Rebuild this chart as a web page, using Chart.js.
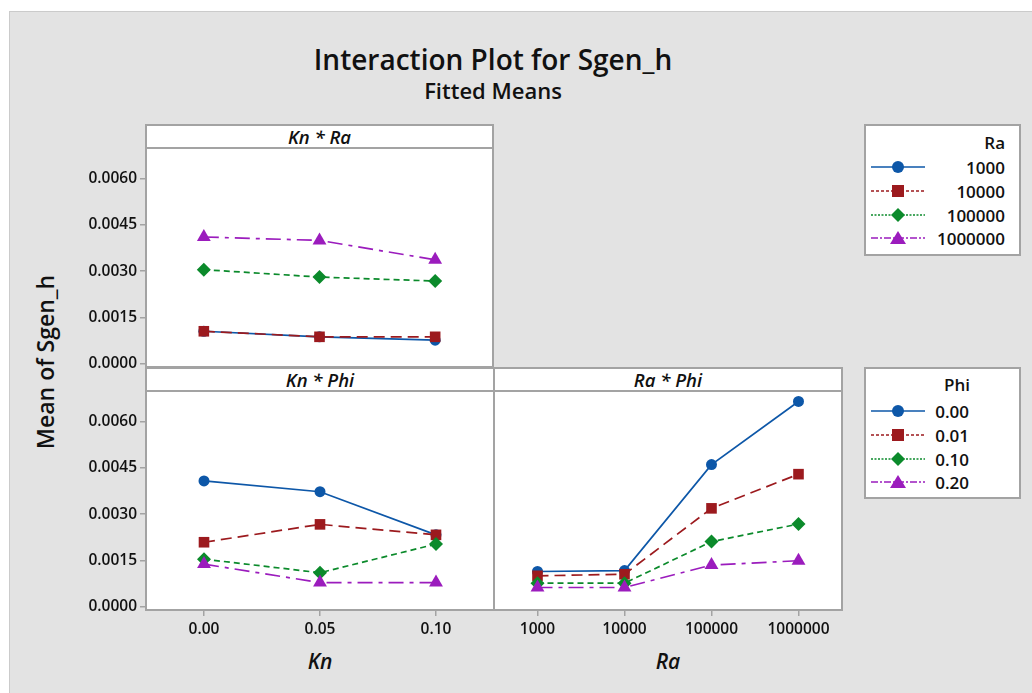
<!DOCTYPE html>
<html>
<head>
<meta charset="utf-8">
<title>Interaction Plot for Sgen_h</title>
<script src="https://cdn.jsdelivr.net/npm/chart.js@4.4.1/dist/chart.umd.min.js"></script>
<style>
  body { margin: 0; width: 1032px; height: 693px; background: #fff; position: relative; overflow: hidden;
         font-family: 'Open Sans', 'Noto Sans', sans-serif; color: #111; }
  .abs { position: absolute; }
  #bg { left: 9px; top: 11px; right: 0; bottom: 0; background: #e3e3e3; border-top: 1px solid #cbcbcb; border-left: 1px solid #cbcbcb; }
  .title { left: 0; width: 986px; text-align: center; font-weight: 600; line-height: 1; }
  .strip { background: #fff; border: 2px solid #a3a3a3; box-sizing: border-box; text-align: center;
           font-style: italic; font-weight: 600; font-size: 18.5px; line-height: 21px; }
  .axtitle { font-weight: 600; font-size: 21px; font-style: italic; transform: translate(-50%, -50%); white-space: nowrap; }
  .legend { background: #fff; border: 2px solid #a3a3a3; box-sizing: border-box; }
  .lgtext { font-weight: 600; font-size: 17px; transform: translate(-100%, -50%); white-space: nowrap; }
  canvas { position: absolute; }
</style>
</head>
<body>
<div id="bg" class="abs"></div>
<div class="abs title" style="top:45px;font-size:28px;">Interaction Plot for Sgen_h</div>
<div class="abs title" style="top:79px;font-size:22px;">Fitted Means</div>

<div class="abs strip" style="left:145px;top:124px;width:349px;height:25px;">Kn * Ra</div>
<div class="abs strip" style="left:145px;top:367px;width:350px;height:25px;">Kn * Phi</div>
<div class="abs strip" style="left:493px;top:367px;width:350px;height:25px;">Ra * Phi</div>

<canvas id="knRa" width="425" height="223" style="left:70px;top:146px;"></canvas>
<canvas id="knPhi" width="426" height="251" style="left:70px;top:389px;"></canvas>
<canvas id="raPhi" width="352" height="251" style="left:492px;top:389px;"></canvas>

<div class="abs axtitle" style="left:45px;top:362px;font-style:normal;font-size:23px;transform:translate(-50%,-50%) rotate(-90deg);">Mean of Sgen_h</div>
<div class="abs axtitle" style="left:320px;top:661px;">Kn</div>
<div class="abs axtitle" style="left:668px;top:661px;">Ra</div>

<div id="legendRa" class="abs legend" style="left:864px;top:124px;width:157px;height:132px;"></div>
<div id="legendPhi" class="abs legend" style="left:864px;top:367px;width:157px;height:132px;"></div>

<script>
// factor levels on the x axes
const knLevels = ['0.00', '0.05', '0.10'];
const raLevels = ['1000', '10000', '100000', '1000000'];

// grouping levels (legend entries)
const raGroups = ['1000', '10000', '100000', '1000000'];
const phiGroups = ['0.00', '0.01', '0.10', '0.20'];

// shared y ticks
const yTicks = [0, 0.0015, 0.003, 0.0045, 0.006];
const yMin = -0.00011;
const yMax = 0.0070;

// Kn * Ra fitted means, one array per Ra level
const knRa1000 = [0.00105, 0.00087, 0.00076];
const knRa10000 = [0.00105, 0.00087, 0.00087];
const knRa100000 = [0.00305, 0.00281, 0.00268];
const knRa1000000 = [0.00411, 0.00400, 0.00337];

// Kn * Phi fitted means, one array per Phi level
const knPhi000 = [0.00408, 0.00373, 0.00233];
const knPhi001 = [0.00209, 0.00267, 0.00233];
const knPhi010 = [0.00154, 0.00110, 0.00203];
const knPhi020 = [0.00138, 0.00078, 0.00078];

// Ra * Phi fitted means, one array per Phi level
const raPhi000 = [0.00114, 0.00117, 0.00461, 0.00666];
const raPhi001 = [0.00100, 0.00105, 0.00319, 0.00430];
const raPhi010 = [0.00076, 0.00076, 0.00211, 0.00268];
const raPhi020 = [0.00062, 0.00062, 0.00135, 0.00149];

const styles = [
  { color: '#0d57a8', pointStyle: 'circle', radius: 5.5, dash: [], legendDash: '' },
  { color: '#9c1a1e', pointStyle: 'rect', radius: 7.5, dash: [11, 6], legendDash: '3,2' },
  { color: '#0b8a2b', pointStyle: 'rectRot', radius: 7, dash: [6, 4], legendDash: '2,1.5' },
  { color: '#9b1cbd', pointStyle: 'triangle', radius: 8, dash: [15, 6, 4, 6], legendDash: '7,2,2,2' }
];

const GRAY = '#a3a3a3';
const tickFont = { family: "'Open Sans', 'Noto Sans', sans-serif", size: 15.5, weight: '600' };

// white plot area with a grey frame
const panelFrame = {
  id: 'panelFrame',
  beforeDraw(chart) {
    const { ctx, chartArea: a } = chart;
    ctx.save();
    ctx.fillStyle = '#fff';
    ctx.fillRect(a.left, a.top, a.right - a.left, a.bottom - a.top);
    ctx.restore();
  },
  beforeDatasetsDraw(chart) {
    const { ctx, chartArea: a } = chart;
    ctx.save();
    ctx.strokeStyle = GRAY;
    ctx.lineWidth = 2;
    ctx.strokeRect(a.left, a.top, a.right - a.left, a.bottom - a.top);
    ctx.restore();
  }
};

// fixed axis sizes, no label overflow padding, so the panels line up
function fixSize(s, size) {
  const shown = s.options.display;
  if (s.isHorizontal()) s.height = shown ? size : 0;
  else s.width = shown ? size : 0;
  s.paddingTop = 0;
  s.paddingBottom = 0;
  s.paddingLeft = 0;
  s.paddingRight = 0;
}

function buildDatasets(series) {
  return series.map((data, i) => {
    const s = styles[i];
    return {
      data: data,
      borderColor: s.color,
      backgroundColor: s.color,
      borderWidth: 1.7,
      borderDash: s.dash,
      pointStyle: s.pointStyle,
      pointRadius: s.radius,
      pointBorderWidth: 0,
      pointBackgroundColor: s.color,
      tension: 0,
      clip: false,
      order: 3 - i
    };
  });
}

function makePanel(id, labels, series, opts) {
  const ctx = document.getElementById(id).getContext('2d');
  return new Chart(ctx, {
    type: 'line',
    data: { labels: labels, datasets: buildDatasets(series) },
    options: {
      responsive: false,
      animation: false,
      events: [],
      layout: { padding: opts.padding, autoPadding: false },
      plugins: { legend: { display: false }, tooltip: { enabled: false }, title: { display: false } },
      scales: {
        x: {
          type: 'category',
          offset: true,
          display: opts.showX,
          border: { display: false },
          grid: { display: true, drawOnChartArea: false, drawTicks: true, tickLength: 6, color: GRAY, lineWidth: 1.5 },
          ticks: { font: tickFont, color: '#111', padding: 4, maxRotation: 0, autoSkip: false },
          afterFit: s => fixSize(s, 30)
        },
        y: {
          min: yMin,
          max: yMax,
          display: opts.showY,
          border: { display: false },
          grid: { display: true, drawOnChartArea: false, drawTicks: true, tickLength: 6, color: GRAY, lineWidth: 1.5 },
          ticks: { font: tickFont, color: '#111', padding: 3, callback: v => Number(v).toFixed(4) },
          afterBuildTicks: s => { s.ticks = yTicks.map(v => ({ value: v })); },
          afterFit: s => fixSize(s, 76)
        }
      }
    },
    plugins: [panelFrame]
  });
}

makePanel('knRa', knLevels, [knRa1000, knRa10000, knRa100000, knRa1000000],
  { showX: false, showY: true, padding: { top: 2, right: 2, bottom: 2, left: 0 } });
makePanel('knPhi', knLevels, [knPhi000, knPhi001, knPhi010, knPhi020],
  { showX: true, showY: true, padding: { top: 2, right: 2, bottom: 0, left: 0 } });
makePanel('raPhi', raLevels, [raPhi000, raPhi001, raPhi010, raPhi020],
  { showX: true, showY: false, padding: { top: 2, right: 2, bottom: 0, left: 2 } });

// legend boxes: sample line with marker, level text right-aligned
function markerSvg(s) {
  const c = s.color;
  if (s.pointStyle === 'circle') return `<circle cx="27" cy="8" r="6" fill="${c}"/>`;
  if (s.pointStyle === 'rect') return `<rect x="21" y="2" width="12" height="12" fill="${c}"/>`;
  if (s.pointStyle === 'rectRot') return `<polygon points="27,1 34,8 27,15 20,8" fill="${c}"/>`;
  return `<polygon points="27,1 35,14 19,14" fill="${c}"/>`;
}

function buildLegend(id, title, levels, textRight, titleRight, rowsY, titleY) {
  const box = document.getElementById(id);
  const left = 866, top = (id === 'legendRa' ? 124 : 367) + 2;
  let html = `<div class="abs lgtext" style="left:${titleRight - left}px;top:${titleY - top}px;">${title}</div>`;
  levels.forEach((lv, i) => {
    const s = styles[i];
    const y = rowsY[i] - top;
    html += `<svg class="abs" width="56" height="16" style="left:${871 - left}px;top:${y - 8}px;">` +
      `<line x1="0" y1="8" x2="54" y2="8" stroke="${s.color}" stroke-width="1.6"` +
      (s.legendDash ? ` stroke-dasharray="${s.legendDash}"` : '') + `/>` + markerSvg(s) + `</svg>`;
    html += `<div class="abs lgtext" style="left:${textRight - left}px;top:${y}px;">${lv}</div>`;
  });
  box.innerHTML = html;
}

buildLegend('legendRa', 'Ra', raGroups, 1005, 1005, [167, 191, 215, 238], 142);
buildLegend('legendPhi', 'Phi', phiGroups, 969, 970, [411, 435, 459, 482], 384);
</script>
</body>
</html>
